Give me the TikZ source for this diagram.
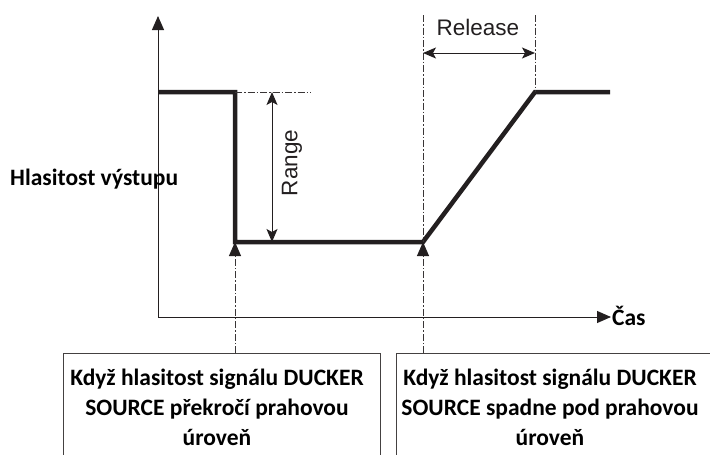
\documentclass[tikz,border=0pt]{standalone}
\usepackage{fontspec}
\setmainfont{Carlito}
\newfontfamily\helv{Liberation Sans}
\usetikzlibrary{arrows.meta}
\definecolor{ink}{HTML}{231F20}
\begin{document}
\begin{tikzpicture}[x=1pt,y=-1pt,
  axis/.style={draw=ink, line width=1pt},
  signal/.style={draw=ink, line width=4.5pt, line join=miter},
  dashdot/.style={draw=ink!90, line width=0.9pt, dash pattern=on 7pt off 2pt on 1.5pt off 2pt},
  tip/.style={-{Triangle[length=14pt,width=12pt,fill=ink,color=ink]}},
  dimtip/.style={{Stealth[length=13pt,width=11pt,inset=3pt]}-{Stealth[length=13pt,width=11pt,inset=3pt]}},
  lbl/.style={font=\fontsize{23.5}{28}\selectfont\bfseries, inner sep=0pt},
  boxtext/.style={font=\fontsize{23.5}{30}\selectfont\bfseries, align=center, inner sep=0pt},
  dimlbl/.style={font=\helv\fontsize{22.5}{26}\selectfont, text=ink, inner sep=0pt},
  frame/.style={draw=ink!85, line width=1pt}]
\useasboundingbox (0,0) rectangle (710,455);
% axes
\coordinate (O) at (158,317);
\coordinate (ytop) at (158,16);
\coordinate (xend) at (611,317);
\draw[axis,tip] (O) -- (ytop);
\draw[axis,tip] (O) -- (xend);
\node[lbl, anchor=west] (cas) at (612,316) {Čas};
\node[lbl, anchor=west] (hlas) at (10,179) {Hlasitost výstupu};
% signal
\coordinate (s0) at (158,92);
\coordinate (s1) at (235,92);
\coordinate (s2) at (235,242);
\coordinate (s3) at (423,242);
\coordinate (s4) at (535,92);
\coordinate (s5) at (610,92);
\draw[signal] (s0) -- (s1) -- (s2) -- (s3) -- (s4) -- (s5);
% range
\coordinate (rext) at (311,92);
\draw[dashdot] (s1) -- (rext);
\coordinate (rtop) at (272,92);
\coordinate (rbot) at (272,242);
\draw[axis,dimtip] (rtop) -- (rbot);
\node[dimlbl, rotate=90] (range) at (292,163) {Range};
% release
\coordinate (relL) at (423,15);
\coordinate (relR) at (535,15);
\draw[dashdot] (relL) -- (s3);
\draw[dashdot] (relR) -- (s4);
\coordinate (rla) at (423,53);
\coordinate (rlb) at (535,53);
\draw[axis,dimtip] (rla) -- (rlb);
\node[dimlbl] (release) at (478,27) {Release};
% boxes
\draw[frame] (63,456) -- (63,353) -- (380,353) -- (380,456);
\draw[frame] (396,456) -- (396,353) -- (711,353);
\coordinate (lb) at (235,353);
\coordinate (rb) at (423,353);
\node[boxtext] (ltext) at (217,407) {Když hlasitost signálu DUCKER\\SOURCE překročí prahovou\\úroveň};
\node[boxtext] (rtext) at (550,407) {Když hlasitost signálu DUCKER\\SOURCE spadne pod prahovou\\úroveň};
% trigger arrows
\draw[dashdot,tip] (lb) -- (s2);
\draw[dashdot,tip] (rb) -- (s3);
\end{tikzpicture}
\end{document}
